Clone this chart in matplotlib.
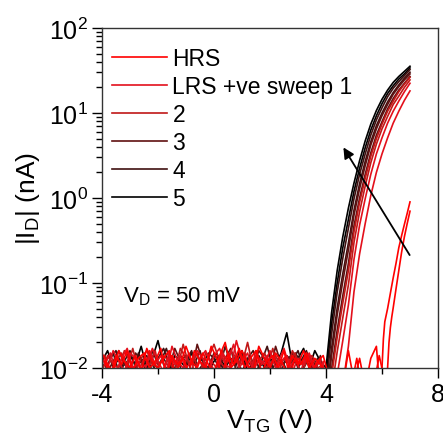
import numpy as np
import matplotlib
matplotlib.use('Agg')
import matplotlib.pyplot as plt
from matplotlib.ticker import MultipleLocator, LogLocator

plt.rcParams['font.family'] = ['Liberation Sans', 'DejaVu Sans']
plt.rcParams['mathtext.default'] = 'regular'
plt.rcParams['axes.unicode_minus'] = False

# noise floor, forward sweep -4.0 .. 3.8 V in 0.2 V steps (nA)
noise_s5 = [0.012, 0.016, 0.010, 0.013, 0.009, 0.014, 0.011, 0.018, 0.010, 0.013,
            0.021, 0.011, 0.009, 0.014, 0.012, 0.010, 0.015, 0.011, 0.013, 0.009,
            0.012, 0.014, 0.010, 0.013, 0.011, 0.016, 0.009, 0.012, 0.014, 0.010,
            0.013, 0.011, 0.015, 0.026, 0.011, 0.013, 0.017, 0.010, 0.016, 0.012]
noise_s4 = [0.010, 0.013, 0.015, 0.009, 0.012, 0.016, 0.010, 0.012, 0.014, 0.009,
            0.013, 0.017, 0.011, 0.010, 0.014, 0.012, 0.016, 0.009, 0.011, 0.015,
            0.013, 0.010, 0.018, 0.011, 0.014, 0.009, 0.013, 0.016, 0.010, 0.012,
            0.015, 0.011, 0.009, 0.014, 0.012, 0.016, 0.010, 0.013, 0.011, 0.009]
noise_s3 = [0.014, 0.009, 0.012, 0.016, 0.011, 0.010, 0.015, 0.012, 0.009, 0.016,
            0.011, 0.013, 0.010, 0.017, 0.012, 0.014, 0.009, 0.019, 0.012, 0.010,
            0.015, 0.011, 0.013, 0.017, 0.009, 0.014, 0.012, 0.010, 0.016, 0.013,
            0.009, 0.018, 0.011, 0.012, 0.015, 0.010, 0.013, 0.012, 0.009, 0.014]
noise_s2 = [0.009, 0.014, 0.011, 0.010, 0.016, 0.012, 0.009, 0.013, 0.016, 0.011,
            0.010, 0.014, 0.012, 0.009, 0.017, 0.013, 0.011, 0.015, 0.010, 0.013,
            0.019, 0.012, 0.010, 0.016, 0.013, 0.011, 0.020, 0.010, 0.012, 0.015,
            0.011, 0.014, 0.010, 0.009, 0.016, 0.012, 0.011, 0.014, 0.010, 0.012]
noise_s1 = [0.013, 0.010, 0.016, 0.012, 0.009, 0.015, 0.013, 0.010, 0.011, 0.017,
            0.012, 0.009, 0.015, 0.011, 0.014, 0.010, 0.012, 0.016, 0.013, 0.009,
            0.014, 0.017, 0.011, 0.010, 0.021, 0.012, 0.015, 0.009, 0.013, 0.011,
            0.016, 0.010, 0.012, 0.014, 0.009, 0.013, 0.011, 0.015, 0.010, 0.013]
# noise floor, second branch -3.9 .. 3.9 V
noise_s4_b = [0.009, 0.013, 0.016, 0.010, 0.012, 0.008, 0.015, 0.011, 0.014, 0.009,
              0.012, 0.017, 0.010, 0.013, 0.008, 0.014, 0.011, 0.016, 0.009, 0.012,
              0.015, 0.010, 0.013, 0.008, 0.016, 0.011, 0.014, 0.009, 0.012, 0.018,
              0.010, 0.013, 0.011, 0.008, 0.015, 0.012, 0.016, 0.010, 0.013, 0.011]
noise_s2_b = [0.014, 0.008, 0.012, 0.015, 0.010, 0.017, 0.009, 0.013, 0.011, 0.016,
              0.008, 0.012, 0.014, 0.010, 0.019, 0.011, 0.013, 0.008, 0.015, 0.012,
              0.010, 0.016, 0.009, 0.013, 0.011, 0.015, 0.008, 0.014, 0.012, 0.010,
              0.017, 0.009, 0.013, 0.011, 0.015, 0.008, 0.012, 0.014, 0.010, 0.011]
noise_s1_b = [0.011, 0.015, 0.009, 0.013, 0.017, 0.010, 0.012, 0.008, 0.016, 0.011,
              0.014, 0.009, 0.018, 0.012, 0.010, 0.015, 0.009, 0.013, 0.016, 0.011,
              0.008, 0.015, 0.012, 0.019, 0.010, 0.013, 0.009, 0.016, 0.011, 0.014,
              0.008, 0.012, 0.017, 0.010, 0.013, 0.009, 0.015, 0.011, 0.008, 0.012]
# HRS noise, -4.0 .. 5.8 V and -3.9 .. 5.9 V
noise_hrs = [0.015, 0.011, 0.009, 0.016, 0.012, 0.010, 0.014, 0.009, 0.017, 0.012,
             0.010, 0.013, 0.016, 0.009, 0.011, 0.018, 0.012, 0.010, 0.015, 0.011,
             0.009, 0.014, 0.020, 0.010, 0.012, 0.016, 0.011, 0.009, 0.018, 0.013,
             0.010, 0.015, 0.012, 0.009, 0.014, 0.011, 0.016, 0.010, 0.013, 0.011,
             0.009, 0.007, 0.008, 0.006, 0.016, 0.007, 0.013, 0.006, 0.013, 0.018]
noise_hrs_b = [0.012, 0.008, 0.014, 0.011, 0.016, 0.009, 0.013, 0.015, 0.010, 0.012,
               0.017, 0.008, 0.014, 0.011, 0.013, 0.009, 0.016, 0.012, 0.010, 0.018,
               0.013, 0.008, 0.015, 0.011, 0.017, 0.010, 0.013, 0.016, 0.009, 0.012,
               0.014, 0.010, 0.016, 0.008, 0.013, 0.011, 0.015, 0.009, 0.012, 0.014,
               0.008, 0.006, 0.007, 0.005, 0.006, 0.013, 0.005, 0.006, 0.006, 0.014]

# turn-on region of the LRS sweeps (two branches each)
v_rise = [4.0, 4.2, 4.4, 4.6, 4.8, 5.0, 5.2, 5.4, 5.6, 5.8, 6.0, 6.2, 6.4, 6.6, 6.8, 7.0]
s5_a = [0.010, 0.045, 0.14, 0.35, 0.76, 1.5, 2.75, 4.7, 7.4, 10.7, 14.5, 18.6, 22.9, 26.9, 30.9, 35.5]
s5_b = [0.0076, 0.033, 0.10, 0.26, 0.56, 1.2, 2.24, 3.9, 6.3, 9.3, 12.9, 17.0, 20.9, 25.1, 28.8, 33.9]
s4_a = [0.0059, 0.025, 0.078, 0.195, 0.44, 0.98, 1.9, 3.3, 5.5, 8.3, 11.5, 15.5, 19.5, 23.4, 27.5, 32.4]
s4_b = [0.004, 0.017, 0.051, 0.129, 0.295, 0.72, 1.48, 2.7, 4.6, 7.1, 10.0, 13.5, 17.4, 21.4, 25.7, 30.2]
s3_a = [0.0035, 0.014, 0.042, 0.105, 0.245, 0.63, 1.29, 2.4, 4.2, 6.5, 9.3, 12.6, 16.6, 20.4, 24.5, 28.8]
s3_b = [0.0025, 0.0098, 0.028, 0.071, 0.17, 0.47, 1.0, 1.9, 3.4, 5.5, 7.9, 11.2, 14.8, 18.6, 22.4, 26.9]
s2_a = [0.002, 0.0081, 0.023, 0.058, 0.14, 0.40, 0.89, 1.7, 3.1, 5.0, 7.4, 10.5, 13.8, 17.8, 21.9, 26.3]
s2_b = [0.0015, 0.0055, 0.0155, 0.039, 0.095, 0.30, 0.69, 1.38, 2.6, 4.3, 6.5, 9.1, 12.6, 15.8, 20.0, 24.5]
s1_a = [0.0009, 0.0031, 0.0083, 0.021, 0.055, 0.19, 0.48, 0.98, 1.9, 3.3, 5.1, 7.6, 10.5, 13.8, 17.8, 22.4]
s1_b = [0.0003, 0.001, 0.0025, 0.0063, 0.018, 0.079, 0.22, 0.50, 1.07, 2.0, 3.3, 5.1, 7.6, 10.5, 14.1, 18.2]

# HRS turn-on, two branches
v_hrs_a = [5.9, 6.0, 6.05, 6.1, 6.2, 6.3, 6.4, 6.5, 6.6, 6.7, 6.8, 6.9, 7.0]
hrs_a = [0.007, 0.010, 0.022, 0.035, 0.05, 0.076, 0.115, 0.17, 0.26, 0.36, 0.49, 0.66, 0.9]
v_hrs_b = [6.1, 6.2, 6.25, 6.3, 6.35, 6.4, 6.5, 6.6, 6.7, 6.8, 6.9, 7.0]
hrs_b = [0.007, 0.010, 0.02, 0.03, 0.04, 0.051, 0.085, 0.14, 0.23, 0.35, 0.5, 0.7]

labels = ['HRS', 'LRS +ve sweep 1', '2', '3', '4', '5']
colors = ['#ff0000', '#e3101c', '#c01818', '#601010', '#401010', '#000000']

v_noise = list(np.round(np.arange(-4.0, 3.81, 0.2), 1))
v_noise_b = list(np.round(np.arange(-3.9, 3.91, 0.2), 1))
v_noise_hrs = list(np.round(np.arange(-4.0, 5.81, 0.2), 1))
v_noise_hrs_b = list(np.round(np.arange(-3.9, 5.91, 0.2), 1))

fig = plt.figure(figsize=(4.43, 4.35), dpi=100)
ax = fig.add_axes([0.2302, 0.1517, 0.7585, 0.7816])

lw = 1.2
# (sweep number, forward noise, branch a, branch b noise, branch b)
sweeps = [(5, noise_s5, s5_a, None, s5_b),
          (4, noise_s4, s4_a, noise_s4_b, s4_b),
          (3, noise_s3, s3_a, None, s3_b),
          (2, noise_s2, s2_a, noise_s2_b, s2_b),
          (1, noise_s1, s1_a, noise_s1_b, s1_b)]
handles = {}
# sweep 5 first so the red curves end up on top
for k, nz, a, nzb, b in sweeps:
    c = colors[k]
    line, = ax.plot(v_noise + v_rise, nz + a, color=c, lw=lw)
    if nzb is None:
        ax.plot(v_rise, b, color=c, lw=lw)
    else:
        ax.plot(v_noise_b + v_rise, nzb + b, color=c, lw=lw)
    handles[k] = line

line, = ax.plot(v_noise_hrs + v_hrs_a, noise_hrs + hrs_a, color=colors[0], lw=lw)
ax.plot(v_noise_hrs_b + v_hrs_b, noise_hrs_b + hrs_b, color=colors[0], lw=lw)
handles[0] = line

ax.set_yscale('log')
ax.set_xlim(-4, 8)
ax.set_ylim(1e-2, 1e2)
ax.xaxis.set_major_locator(MultipleLocator(4))
ax.xaxis.set_minor_locator(MultipleLocator(2))
ax.yaxis.set_minor_locator(LogLocator(base=10, subs=np.arange(2, 10)))

ax.tick_params(which='major', direction='out', length=7, width=1, labelsize=18, pad=3)
ax.tick_params(which='minor', direction='out', length=4, width=1)
for s in ax.spines.values():
    s.set_linewidth(1.0)
    s.set_color('#333333')

ax.set_xlabel('V$_{TG}$ (V)', fontsize=19, labelpad=0)
ax.set_ylabel('|I$_{D}$| (nA)', fontsize=19, labelpad=-2)

ax.legend([handles[k] for k in range(6)], labels, loc='upper left', frameon=False,
          fontsize=16.5, handlelength=2.4, handletextpad=0.25, labelspacing=0.22,
          borderaxespad=0.2, bbox_to_anchor=(-0.012, 0.985))

ax.text(-3.25, 0.06, 'V$_{D}$ = 50 mV', fontsize=16, va='baseline')

ax.annotate('', xy=(4.57, 4.2), xytext=(7.04, 0.2),
            arrowprops=dict(arrowstyle='-|>', color='black', lw=1.3, mutation_scale=16))

fig.savefig('out.png', dpi=100)
